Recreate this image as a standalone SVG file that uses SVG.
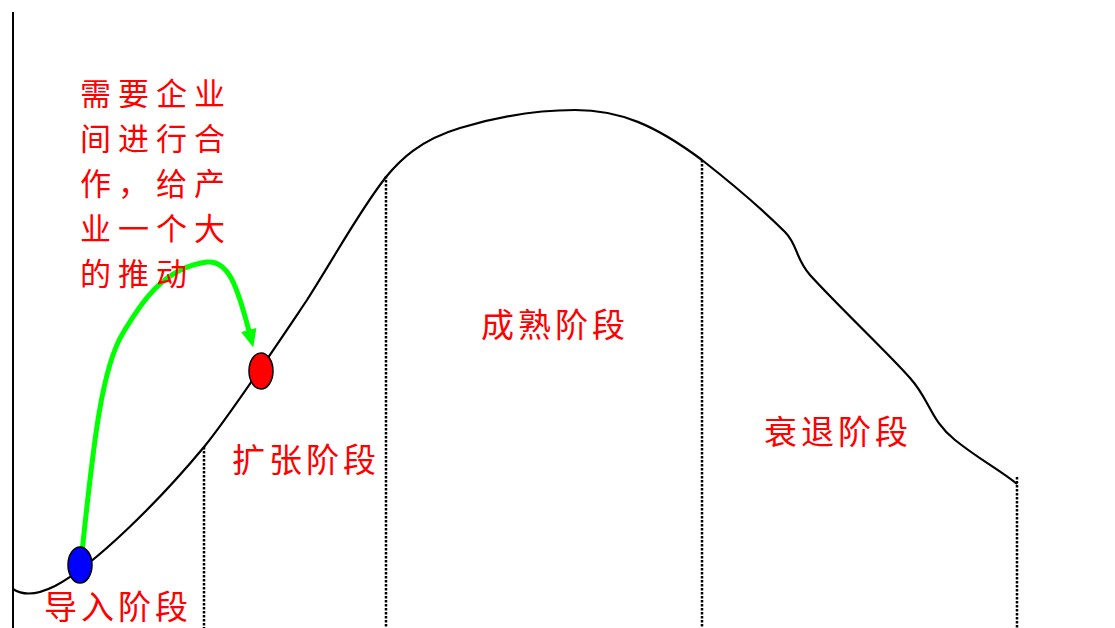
<svg xmlns="http://www.w3.org/2000/svg" width="1115" height="628" viewBox="0 0 1115 628">
<style>
.lbl{font-family:"Noto Sans CJK SC","Noto Sans CJK JP",sans-serif;font-size:33px;fill:#ff0000;letter-spacing:4px}
.note{font-family:"Noto Sans CJK SC","Noto Sans CJK JP",sans-serif;font-size:31px;fill:#ff0000;letter-spacing:7px}
.dot{stroke:#000;stroke-width:2.5;stroke-dasharray:2.5 1.5;fill:none}
.curve{stroke:#000;stroke-width:2.2;fill:none}
</style>
<defs>
<marker id="ah" markerUnits="userSpaceOnUse" markerWidth="18" markerHeight="16" viewBox="0 0 17 15" refX="1" refY="7.5" orient="auto">
<path d="M0,0 L17,7.5 L0,15 z" fill="#00ff00"/>
</marker>
</defs>
<g id="axes">
<line x1="13" y1="12" x2="13" y2="628" stroke="#000" stroke-width="2"/>
</g>
<g id="dividers">
<line class="dot" x1="204" y1="447" x2="204" y2="628"/>
<line class="dot" x1="386" y1="176" x2="386" y2="628"/>
<line class="dot" x1="702" y1="160" x2="702" y2="628"/>
<line class="dot" x1="1017" y1="477" x2="1017" y2="628"/>
</g>
<g id="connectors">
<path class="curve" d="M13,589 C22,595 35,596 55,586 C95,565 160,500 204,447 C228,418 270,355 307,300 C340,248 360,210 386,177 C400,160 420,140 460,128 C500,116 540,110 575,110 C620,110 655,125 702,160 C730,182 765,212 785,232 C798,245 795,258 810,275 C840,308 890,355 910,378 C930,400 930,420 955,440 C980,460 1000,470 1017,484"/>
<path d="M82,552 C92,460 100,370 123,333 C137,310 160,268 207,262 C228,260 237,285 249,331" stroke="#00ff00" stroke-width="5" fill="none" marker-end="url(#ah)"/>
</g>
<g id="node-intro">
<ellipse cx="80" cy="565" rx="12" ry="18" fill="#0000ff" stroke="#000" stroke-width="1.5"/>
<text class="lbl" x="44" y="619">导入阶段</text>
</g>
<g id="node-growth">
<ellipse cx="261" cy="371" rx="12" ry="18" fill="#ff0000" stroke="#000" stroke-width="1.5"/>
<text class="lbl" x="232" y="472">扩张阶段</text>
</g>
<g id="node-maturity">
<text class="lbl" x="481" y="337">成熟阶段</text>
</g>
<g id="node-decline">
<text class="lbl" x="764" y="444">衰退阶段</text>
</g>
<g id="note">
<text class="note" x="80" y="105">需要企业</text>
<text class="note" x="80" y="150">间进行合</text>
<text class="note" x="80" y="195">作，给产</text>
<text class="note" x="80" y="240">业一个大</text>
<text class="note" x="80" y="285">的推动</text>
</g>
</svg>
